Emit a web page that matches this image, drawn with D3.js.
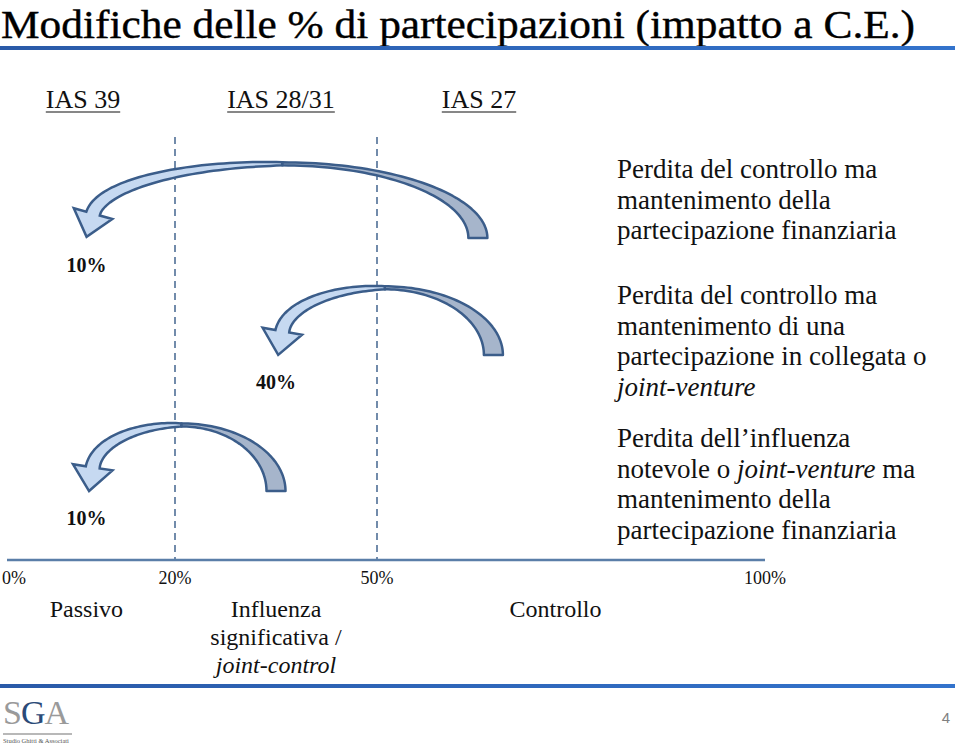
<!DOCTYPE html>
<html><head><meta charset="utf-8">
<script src="https://cdn.jsdelivr.net/npm/d3@7"></script>
<style>html,body{margin:0;padding:0;background:#fff;}svg{display:block;}</style>
</head><body>
<svg id="chart" width="960" height="744"></svg>
<script>
// ---------- data ----------
const titleText = "Modifiche delle % di partecipazioni (impatto a C.E.)";
const standards = ["IAS 39", "IAS 28/31", "IAS 27"];
const tickValues = [0, 20, 50, 100];
const tickLabels = ["0%", "20%", "50%", "100%"];
const dashedThresholds = [20, 50];
const categoryNames = ["Passivo", "Influenza|significativa /|*joint-control*", "Controllo"];
const categoryFrom = [0, 20, 50];
const categoryTo = [20, 50, 100];
const categoryAt = [9, 35, 73];
// arrows: stake before (from %) -> stake kept (to %)
const arrowFrom = [63, 65, 35];
const arrowTo = [9, 35, 9];
const arrowLabels = ["10%", "40%", "10%"];
const descriptions = [
  ["Perdita del controllo ma", "mantenimento della", "partecipazione finanziaria"],
  ["Perdita del controllo ma", "mantenimento di una", "partecipazione in collegata o", "*joint-venture*"],
  ["Perdita dell\u2019influenza", "notevole o *joint-venture* ma", "mantenimento della", "partecipazione finanziaria"]
];
const logoLetters = ["S", "G", "A"];
const pageNumber = "4";

// ---------- layout ----------
const svg = d3.select("#chart");
const serif = "'Liberation Serif', 'Times New Roman', serif";
const x = d3.scaleLinear().domain(tickValues).range([14, 175, 377, 765]);
const axisY = 560;
const rowBase = [238, 355, 491];
const textTop = [178, 304, 447];

const defs = svg.append("defs");
const g1 = defs.append("linearGradient").attr("id", "rule").attr("x1", 0).attr("x2", 1).attr("y1", 0).attr("y2", 0);
g1.append("stop").attr("offset", 0).attr("stop-color", "#2a5aa8");
g1.append("stop").attr("offset", 1).attr("stop-color", "#3373cc");

// title
svg.append("text").attr("x", 1).attr("y", 38)
  .attr("font-family", serif).attr("font-size", 41).attr("fill", "#000")
  .attr("stroke", "#000").attr("stroke-width", 0.4)
  .attr("textLength", 914).attr("lengthAdjust", "spacingAndGlyphs")
  .text(titleText);
svg.append("rect").attr("x", 0).attr("y", 46).attr("width", 955).attr("height", 4).attr("fill", "url(#rule)");

// standards headings
const sx = d3.scalePoint().domain(standards).range([83, 479]);
standards.forEach(s => {
  const t = svg.append("text").attr("x", sx(s)).attr("y", 108).attr("text-anchor", "middle")
    .attr("font-family", serif).attr("font-size", 26).attr("fill", "#111").text(s);
  const w = t.node().getComputedTextLength();
  svg.append("line").attr("x1", sx(s) - w / 2).attr("x2", sx(s) + w / 2)
    .attr("y1", 112).attr("y2", 112).attr("stroke", "#111").attr("stroke-width", 1.2);
});

// dashed thresholds
svg.selectAll("line.dash").data(dashedThresholds).join("line").attr("class", "dash")
  .attr("x1", d => x(d)).attr("x2", d => x(d)).attr("y1", 137).attr("y2", axisY)
  .attr("stroke", "#4f6f96").attr("stroke-width", 1.6).attr("stroke-dasharray", "7,5");

// axis
svg.append("line").attr("x1", 7).attr("x2", x(100)).attr("y1", axisY).attr("y2", axisY)
  .attr("stroke", "#5a7ea8").attr("stroke-width", 2.5);
svg.selectAll("text.tick").data(tickValues).join("text").attr("class", "tick")
  .attr("x", d => x(d)).attr("y", 584).attr("text-anchor", "middle")
  .attr("font-family", serif).attr("font-size", 18).attr("fill", "#111")
  .text((d, i) => tickLabels[i]);

function richText(sel, str) {
  const parts = str.split("*");
  parts.forEach((p, i) => {
    if (p === "") return;
    sel.append("tspan").attr("font-style", i % 2 === 1 ? "italic" : "normal").text(p);
  });
}

// categories
categoryNames.forEach((name, i) => {
  const lines = name.split("|");
  lines.forEach((ln, j) => {
    const t = svg.append("text").attr("x", x(categoryAt[i])).attr("y", 617 + j * 28)
      .attr("text-anchor", "middle").attr("font-family", serif).attr("font-size", 24).attr("fill", "#111");
    richText(t, ln);
  });
});

// descriptions
descriptions.forEach((lines, i) => {
  lines.forEach((ln, j) => {
    const t = svg.append("text").attr("x", 617).attr("y", textTop[i] + j * 30.5)
      .attr("font-family", serif).attr("font-size", 27).attr("fill", "#111");
    richText(t, ln);
  });
});

// curved arrows
const lineGen = d3.line();
function arrowShapes(x0, x1, baseY, H) {
  const cx = (x0 + x1) / 2, R = (x1 - x0) / 2, wT = 19;
  const right = [];
  const n = 48;
  for (let k = 0; k <= n; k++) {
    const th = (Math.PI / 2) * k / n;
    right.push([cx + (R + wT / 2) * Math.cos(th), baseY - H * Math.sin(th)]);
  }
  for (let k = n; k >= 0; k--) {
    const th = (Math.PI / 2) * k / n;
    right.push([cx + (R - wT / 2) * Math.cos(th), baseY - (H - 3) * Math.sin(th)]);
  }
  const rxL = R - 6, cyL = baseY - 20, ryL = H - 20 - 1.5, wH = 14;
  const thE = Math.PI - 0.08;
  const outer = [], inner = [];
  let P, T, N;
  for (let k = 0; k <= n; k++) {
    const f = k / n;
    const th = Math.PI / 2 + (thE - Math.PI / 2) * f;
    const c = [cx + rxL * Math.cos(th), cyL - ryL * Math.sin(th)];
    let tx = -rxL * Math.sin(th), ty = -ryL * Math.cos(th);
    const len = Math.hypot(tx, ty); tx /= len; ty /= len;
    const nx = -ty, ny = tx;
    const w = 3 + (wH - 3) * Math.pow(f, 0.8);
    outer.push([c[0] + nx * w / 2, c[1] + ny * w / 2]);
    inner.push([c[0] - nx * w / 2, c[1] - ny * w / 2]);
    if (k === n) { P = c; T = [tx, ty]; N = [nx, ny]; }
  }
  const hb = wH / 2 + 13, hl = 24;
  const left = outer.concat([
    [P[0] + N[0] * hb, P[1] + N[1] * hb],
    [P[0] + T[0] * hl, P[1] + T[1] * hl],
    [P[0] - N[0] * hb, P[1] - N[1] * hb]
  ]).concat(inner.slice().reverse());
  return { right: lineGen(right) + "Z", left: lineGen(left) + "Z" };
}

arrowFrom.forEach((f, i) => {
  const x0 = x(arrowTo[i]), x1 = x(f);
  const H = 60 + (x1 - x0) * 0.04;
  const s = arrowShapes(x0, x1, rowBase[i], H);
  svg.append("path").attr("d", s.right).attr("fill", "#a6b5cb")
    .attr("stroke", "#3b5d8a").attr("stroke-width", 2.5).attr("stroke-linejoin", "round");
  svg.append("path").attr("d", s.left).attr("fill", "#c6d9f1")
    .attr("stroke", "#3b5d8a").attr("stroke-width", 2.5).attr("stroke-linejoin", "miter");
  svg.append("text").attr("x", x0).attr("y", rowBase[i] + 34).attr("text-anchor", "middle")
    .attr("font-family", serif).attr("font-weight", "bold").attr("font-size", 20).attr("fill", "#111")
    .text(arrowLabels[i]);
});

// bottom rule
svg.append("rect").attr("x", 0).attr("y", 684).attr("width", 955).attr("height", 4).attr("fill", "url(#rule)");

// logo
const logoColors = ["#9a9a9a", "#2b4a78", "#9a9a9a"];
const logoText = svg.append("text").attr("x", 3).attr("y", 724)
  .attr("font-family", serif).attr("font-size", 34).attr("letter-spacing", -1);
logoLetters.forEach((l, i) => logoText.append("tspan").attr("fill", logoColors[i]).text(l));
svg.append("line").attr("x1", 3).attr("x2", 72).attr("y1", 734).attr("y2", 734)
  .attr("stroke", "#a0a0a0").attr("stroke-width", 1.5);
svg.append("text").attr("x", 3).attr("y", 743).attr("font-family", serif).attr("font-size", 6.5)
  .attr("fill", "#555").text("Studio Ghitti & Associati");

svg.append("text").attr("x", 946).attr("y", 723).attr("text-anchor", "middle")
  .attr("font-family", "'Liberation Sans', Arial, sans-serif").attr("font-size", 15).attr("fill", "#808080")
  .text(pageNumber);
</script>
</body></html>
